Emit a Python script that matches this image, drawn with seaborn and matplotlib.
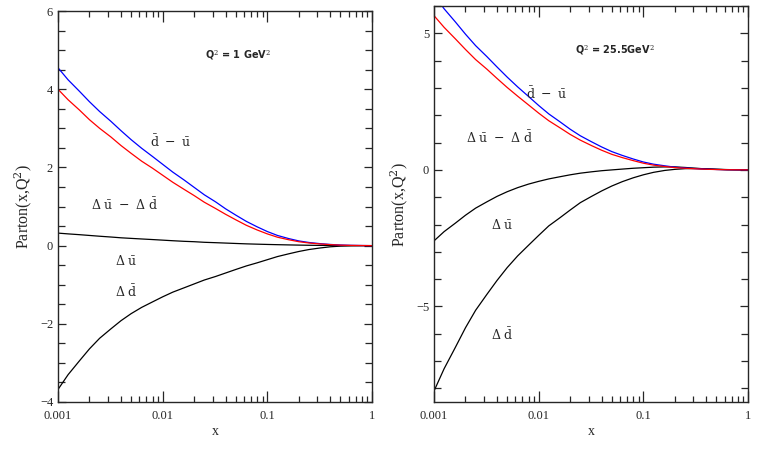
import matplotlib
matplotlib.use("Agg")
import matplotlib.pyplot as plt
import matplotlib.ticker as mticker
import pandas as pd
import seaborn as sns

sns.set_style("ticks")
plt.rcParams["font.family"] = ["Liberation Serif", "DejaVu Serif"]
plt.rcParams["mathtext.fontset"] = "dejavuserif"

# x grid (10 points per decade)
x = [0.001, 0.00125, 0.0016, 0.002, 0.0025, 0.0032, 0.004, 0.005, 0.0063, 0.008,
     0.01, 0.0125, 0.016, 0.02, 0.025, 0.032, 0.04, 0.05, 0.063, 0.08,
     0.1, 0.125, 0.16, 0.2, 0.25, 0.32, 0.4, 0.5, 0.63, 0.8, 1.0]

# Q^2 = 1 GeV^2
blue_1 = [4.55, 4.24, 3.95, 3.68, 3.43, 3.18, 2.94, 2.71, 2.49, 2.28,
          2.08, 1.88, 1.68, 1.49, 1.30, 1.12, 0.94, 0.78, 0.62, 0.48,
          0.36, 0.26, 0.18, 0.12, 0.08, 0.05, 0.03, 0.015, 0.007, 0.003, 0.0]
red_1 = [4.00, 3.73, 3.47, 3.22, 3.00, 2.78, 2.56, 2.36, 2.16, 1.98,
         1.80, 1.62, 1.44, 1.28, 1.11, 0.95, 0.80, 0.66, 0.52, 0.40,
         0.30, 0.215, 0.15, 0.10, 0.067, 0.042, 0.025, 0.012, 0.005, 0.002, 0.0]
dub_1 = [0.32, 0.30, 0.28, 0.26, 0.24, 0.22, 0.20, 0.185, 0.17, 0.155,
         0.14, 0.125, 0.11, 0.10, 0.085, 0.075, 0.065, 0.055, 0.045, 0.037,
         0.03, 0.024, 0.018, 0.013, 0.009, 0.006, 0.004, 0.002, 0.001, 0.0, 0.0]
ddb_1 = [-3.68, -3.30, -2.95, -2.64, -2.37, -2.13, -1.92, -1.74, -1.58, -1.44,
         -1.31, -1.19, -1.08, -0.98, -0.88, -0.79, -0.70, -0.61, -0.52, -0.44,
         -0.36, -0.28, -0.21, -0.15, -0.10, -0.06, -0.03, -0.013, -0.005, -0.001, 0.0]

# Q^2 = 25.5 GeV^2
blue_2 = [6.40, 5.90, 5.42, 4.97, 4.55, 4.15, 3.77, 3.40, 3.04, 2.69,
          2.36, 2.05, 1.76, 1.49, 1.25, 1.03, 0.84, 0.67, 0.53, 0.40,
          0.29, 0.21, 0.15, 0.10, 0.07, 0.045, 0.028, 0.015, 0.007, 0.003, 0.0]
red_2 = [5.65, 5.22, 4.80, 4.41, 4.04, 3.69, 3.35, 3.02, 2.70, 2.38,
         2.08, 1.80, 1.54, 1.30, 1.09, 0.89, 0.72, 0.57, 0.45, 0.34,
         0.245, 0.175, 0.125, 0.085, 0.06, 0.039, 0.024, 0.013, 0.006, 0.003, 0.0]
dub_2 = [-2.60, -2.26, -1.95, -1.66, -1.40, -1.17, -0.97, -0.80, -0.65, -0.52,
         -0.42, -0.33, -0.25, -0.18, -0.12, -0.07, -0.03, 0.0, 0.03, 0.06,
         0.08, 0.10, 0.11, 0.11, 0.09, 0.06, 0.035, 0.018, 0.008, 0.003, 0.0]
ddb_2 = [-8.10, -7.28, -6.50, -5.78, -5.14, -4.56, -4.05, -3.58, -3.15, -2.76,
         -2.40, -2.05, -1.75, -1.47, -1.20, -0.97, -0.77, -0.59, -0.43, -0.29,
         -0.18, -0.09, -0.02, 0.02, 0.045, 0.05, 0.04, 0.025, 0.012, 0.004, 0.0]

xticks = [0.001, 0.01, 0.1, 1]
xticklabels = ["0.001", "0.01", "0.1", "1"]

fig = plt.figure(figsize=(7.57, 4.53), dpi=100)
ax1 = fig.add_axes([0.0766, 0.1126, 0.4148, 0.863])
ax2 = fig.add_axes([0.5733, 0.1126, 0.4148, 0.874])

panels = [
    (ax1, blue_1, red_1, dub_1, ddb_1, (-4, 6), 2, 0.5),
    (ax2, blue_2, red_2, dub_2, ddb_2, (-8.5, 6), 5, 1),
]

for ax, b, r, du, dd, ylim, major, minor in panels:
    df = pd.DataFrame({"x": x, "blue": b, "red": r, "du": du, "dd": dd})
    sns.lineplot(data=df, x="x", y="du", ax=ax, color="black", lw=0.9)
    sns.lineplot(data=df, x="x", y="dd", ax=ax, color="black", lw=0.9)
    sns.lineplot(data=df, x="x", y="blue", ax=ax, color="blue", lw=0.9)
    sns.lineplot(data=df, x="x", y="red", ax=ax, color="red", lw=0.9)
    ax.set_xscale("log")
    ax.set_xlim(0.001, 1)
    ax.set_ylim(*ylim)
    ax.set_xticks(xticks)
    ax.set_xticklabels(xticklabels)
    ax.xaxis.set_minor_locator(mticker.LogLocator(base=10, subs=range(2, 10)))
    ax.xaxis.set_minor_formatter(mticker.NullFormatter())
    ax.yaxis.set_major_locator(mticker.MultipleLocator(major))
    ax.yaxis.set_minor_locator(mticker.MultipleLocator(minor))
    ax.yaxis.set_major_formatter(mticker.FuncFormatter(
        lambda v, p: ("\u2212%d" % abs(v)) if v < 0 else "%d" % v))
    ax.tick_params(which="both", direction="in", top=True, right=True,
                   width=0.9, labelsize=9)
    ax.tick_params(axis="x", which="major", length=8, pad=6)
    ax.tick_params(axis="x", which="minor", length=4)
    ax.tick_params(axis="y", which="major", length=6)
    ax.tick_params(axis="y", which="minor", length=5)
    for s in ax.spines.values():
        s.set_linewidth(1.0)
    ax.set_xlabel("x", fontsize=10, labelpad=2)
    ax.set_ylabel(r"Parton(x,Q$^2$)", fontsize=11.5, labelpad=4)

ax1.text(0.468, 0.887, r"Q$^2$ = 1 GeV$^2$", transform=ax1.transAxes,
         fontsize=7, fontweight="bold", family="DejaVu Sans", va="center")
ax1.text(0.293, 0.665, r"$\bar{\rm d}\ -\ \bar{\rm u}$", transform=ax1.transAxes,
         fontsize=9, va="center")
ax1.text(0.105, 0.504, r"$\Delta\ \bar{\rm u}\ -\ \Delta\ \bar{\rm d}$",
         transform=ax1.transAxes, fontsize=9, va="center")
ax1.text(0.182, 0.361, r"$\Delta\ \bar{\rm u}$", transform=ax1.transAxes,
         fontsize=9, va="center")
ax1.text(0.182, 0.281, r"$\Delta\ \bar{\rm d}$", transform=ax1.transAxes,
         fontsize=9, va="center")

ax2.text(0.449, 0.889, r"Q$^2$ = 25.5GeV$^2$", transform=ax2.transAxes,
         fontsize=7, fontweight="bold", family="DejaVu Sans", va="center")
ax2.text(0.293, 0.778, r"$\bar{\rm d}\ -\ \bar{\rm u}$", transform=ax2.transAxes,
         fontsize=9, va="center")
ax2.text(0.102, 0.667, r"$\Delta\ \bar{\rm u}\ -\ \Delta\ \bar{\rm d}$",
         transform=ax2.transAxes, fontsize=9, va="center")
ax2.text(0.182, 0.447, r"$\Delta\ \bar{\rm u}$", transform=ax2.transAxes,
         fontsize=9, va="center")
ax2.text(0.182, 0.169, r"$\Delta\ \bar{\rm d}$", transform=ax2.transAxes,
         fontsize=9, va="center")

fig.savefig("out.png", dpi=100)
